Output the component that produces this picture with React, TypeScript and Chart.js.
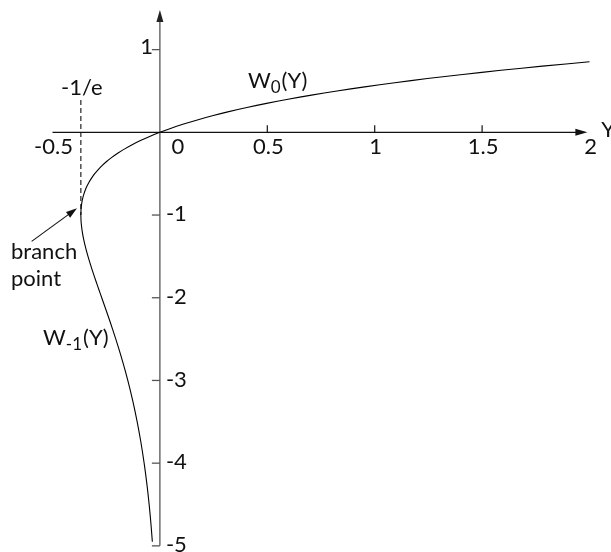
import React, { useEffect, useRef } from "react";
import { Chart, registerables } from "chart.js";

Chart.register(...registerables);

// Principal branch W0: points (Y, W)
const W0_X = [-0.3679, -0.3674, -0.3659, -0.3633, -0.3595, -0.3543, -0.3476, -0.3393, -0.3293, -0.3173, -0.3033, -0.2869, -0.2681, -0.2466, -0.2222, -0.1947, -0.1637, -0.1291, -0.0905, -0.0476, 0, 0.0526, 0.1105, 0.1743, 0.2443, 0.321, 0.405, 0.4967, 0.5967, 0.7057, 0.8244, 0.9533, 1.0933, 1.2451, 1.4096, 1.5878, 1.7804, 2.0];
const W0_Y = [-1, -0.95, -0.9, -0.85, -0.8, -0.75, -0.7, -0.65, -0.6, -0.55, -0.5, -0.45, -0.4, -0.35, -0.3, -0.25, -0.2, -0.15, -0.1, -0.05, 0, 0.05, 0.1, 0.15, 0.2, 0.25, 0.3, 0.35, 0.4, 0.45, 0.5, 0.55, 0.6, 0.65, 0.7, 0.75, 0.8, 0.8526];

// Lower branch W-1
const WM1_X = [-0.3679, -0.3674, -0.3662, -0.3614, -0.3543, -0.3452, -0.3347, -0.323, -0.3106, -0.2975, -0.2842, -0.2707, -0.2438, -0.2177, -0.1931, -0.1703, -0.1494, -0.126, -0.1057, -0.0882, -0.0733, -0.0606, -0.05, -0.0411, -0.0351];
const WM1_Y = [-1, -1.05, -1.1, -1.2, -1.3, -1.4, -1.5, -1.6, -1.7, -1.8, -1.9, -2.0, -2.2, -2.4, -2.6, -2.8, -3.0, -3.25, -3.5, -3.75, -4.0, -4.25, -4.5, -4.75, -4.95];

const X_TICKS = [-0.5, 0, 0.5, 1, 1.5, 2];
const X_TICK_LABELS = ["-0.5", "0", "0.5", "1", "1.5", "2"];
const X_TICK_MARKS = [0.5, 1, 1.5];
const Y_TICKS = [1, -1, -2, -3, -4, -5];
const Y_TICK_LABELS = ["1", "-1", "-2", "-3", "-4", "-5"];

const BRANCH_X = -0.3679;
const BRANCH_Y = -1;

const FONT = 'Lato, "Open Sans", sans-serif';

function arrowHead(ctx: CanvasRenderingContext2D, tx: number, ty: number, fx: number, fy: number, len: number, half: number) {
  const a = Math.atan2(ty - fy, tx - fx);
  const bx = tx - len * Math.cos(a);
  const by = ty - len * Math.sin(a);
  ctx.beginPath();
  ctx.moveTo(tx, ty);
  ctx.lineTo(bx + half * Math.sin(a), by - half * Math.cos(a));
  ctx.lineTo(bx - half * Math.sin(a), by + half * Math.cos(a));
  ctx.closePath();
  ctx.fill();
}

const axesPlugin = {
  id: "lambertAxes",
  beforeDatasetsDraw(chart: any) {
    const ctx: CanvasRenderingContext2D = chart.ctx;
    const xs = chart.scales.x;
    const ys = chart.scales.y;
    const X = (v: number) => xs.getPixelForValue(v);
    const Y = (v: number) => ys.getPixelForValue(v);
    ctx.save();

    // x axis
    ctx.strokeStyle = "#111";
    ctx.fillStyle = "#111";
    ctx.lineWidth = 1.2;
    const xTip = X(1.99);
    ctx.beginPath();
    ctx.moveTo(X(-0.5), Y(0));
    ctx.lineTo(xTip - 6, Y(0));
    ctx.stroke();
    arrowHead(ctx, xTip, Y(0), xTip - 20, Y(0), 12, 3.5);
    for (const t of X_TICK_MARKS) {
      ctx.beginPath();
      ctx.moveTo(X(t), Y(0) - 7);
      ctx.lineTo(X(t), Y(0));
      ctx.stroke();
    }

    // y axis
    ctx.strokeStyle = "#555";
    ctx.fillStyle = "#222";
    ctx.lineWidth = 1.3;
    const yTip = Y(1.48);
    ctx.beginPath();
    ctx.moveTo(X(0), Y(-5));
    ctx.lineTo(X(0), yTip + 6);
    ctx.stroke();
    arrowHead(ctx, X(0), yTip, X(0), yTip + 20, 12, 3.5);
    for (const t of Y_TICKS) {
      ctx.beginPath();
      ctx.moveTo(X(0) - 8, Y(t));
      ctx.lineTo(X(0), Y(t));
      ctx.stroke();
    }

    // dashed line at -1/e
    ctx.strokeStyle = "#111";
    ctx.lineWidth = 1.1;
    ctx.setLineDash([5, 3]);
    ctx.beginPath();
    ctx.moveTo(X(BRANCH_X), Y(0.39));
    ctx.lineTo(X(BRANCH_X), Y(BRANCH_Y));
    ctx.stroke();
    ctx.setLineDash([]);

    ctx.restore();
  },
  afterDraw(chart: any) {
    const ctx: CanvasRenderingContext2D = chart.ctx;
    const xs = chart.scales.x;
    const ys = chart.scales.y;
    const X = (v: number) => xs.getPixelForValue(v);
    const Y = (v: number) => ys.getPixelForValue(v);
    ctx.save();
    ctx.fillStyle = "#111";
    ctx.font = `22px ${FONT}`;

    // x tick labels
    ctx.textAlign = "center";
    ctx.textBaseline = "alphabetic";
    X_TICKS.forEach((t, i) => {
      const dx = t === 0 ? 18 : 1;
      ctx.fillText(X_TICK_LABELS[i], X(t) + dx, Y(0) + 22);
    });

    // y tick labels
    ctx.textBaseline = "middle";
    Y_TICKS.forEach((t, i) => {
      if (t > 0) {
        ctx.textAlign = "right";
        ctx.fillText(Y_TICK_LABELS[i], X(0) - 7, Y(t) - 3);
      } else {
        ctx.textAlign = "left";
        ctx.fillText(Y_TICK_LABELS[i], X(0) + 6, Y(t) - 1);
      }
    });

    // axis name
    ctx.textAlign = "left";
    ctx.fillText("Y", X(1.99) + 14, Y(0) - 2);

    // -1/e
    ctx.textAlign = "center";
    ctx.textBaseline = "alphabetic";
    ctx.fillText("-1/e", X(BRANCH_X) + 1, Y(0.45));

    // subscripted labels
    const subLabel = (x: number, y: number, main: string, sub: string, rest: string) => {
      ctx.textAlign = "left";
      ctx.textBaseline = "alphabetic";
      ctx.font = `22px ${FONT}`;
      ctx.fillText(main, x, y);
      let cx = x + ctx.measureText(main).width;
      ctx.font = `17px ${FONT}`;
      ctx.fillText(sub, cx, y + 5);
      cx += ctx.measureText(sub).width + 1;
      ctx.font = `22px ${FONT}`;
      ctx.fillText(rest, cx, y);
    };
    subLabel(X(0.41), Y(0.53), "W", "0", "(Y)");
    subLabel(X(-0.544), Y(-2.575), "W", "-1", "(Y)");

    // branch point annotation
    ctx.font = `22px ${FONT}`;
    ctx.textAlign = "left";
    ctx.fillText("branch", X(-0.693), Y(-1.53));
    ctx.fillText("point", X(-0.693), Y(-1.86));

    // arrow to branch point
    const tx = X(-0.597), ty = Y(-1.318);
    const hx = X(-0.386), hy = Y(-0.919);
    ctx.strokeStyle = "#111";
    ctx.lineWidth = 1.1;
    ctx.beginPath();
    ctx.moveTo(tx, ty);
    ctx.lineTo(hx - (hx - tx) * 0.1, hy - (hy - ty) * 0.1);
    ctx.stroke();
    arrowHead(ctx, hx, hy, tx, ty, 11, 3.5);

    ctx.restore();
  },
};

export default function App() {
  const ref = useRef<HTMLCanvasElement | null>(null);
  useEffect(() => {
    if (!ref.current) return;
    const w0 = W0_X.map((x, i) => ({ x, y: W0_Y[i] }));
    const wm1 = WM1_X.map((x, i) => ({ x, y: WM1_Y[i] }));
    const chart = new Chart(ref.current, {
      type: "scatter",
      data: {
        datasets: [
          { label: "W0", data: w0, showLine: true, borderColor: "#000", borderWidth: 1.1, pointRadius: 0, tension: 0.3, fill: false },
          { label: "W-1", data: wm1, showLine: true, borderColor: "#000", borderWidth: 1.1, pointRadius: 0, tension: 0.3, fill: false },
        ],
      },
      options: {
        responsive: false,
        animation: false,
        devicePixelRatio: 1,
        layout: { padding: { left: 31, right: 0, top: 0, bottom: 2 } },
        plugins: { legend: { display: false }, tooltip: { enabled: false } },
        scales: {
          x: { type: "linear", min: -0.6, max: 2.1, display: false },
          y: { type: "linear", min: -5.05, max: 1.6, display: false },
        },
      },
      plugins: [axesPlugin],
    });
    return () => chart.destroy();
  }, []);
  return (
    <div style={{ position: "absolute", left: 0, top: 0, width: 611, height: 552, background: "#fff" }}>
      <canvas ref={ref} width={611} height={552} style={{ display: "block" }} />
    </div>
  );
}
